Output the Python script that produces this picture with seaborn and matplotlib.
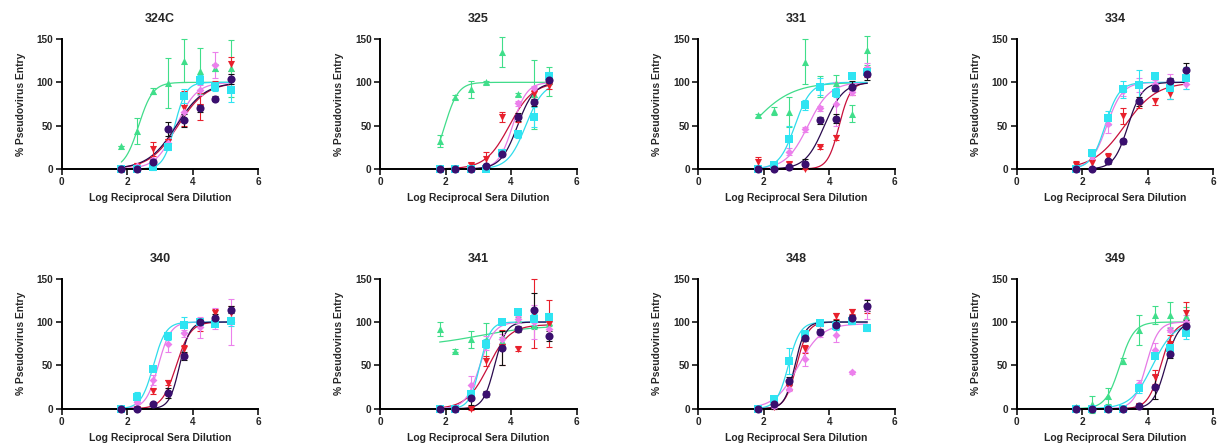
import numpy as np
import pandas as pd
import matplotlib
matplotlib.use("Agg")
import matplotlib.pyplot as plt
import seaborn as sns

sns.set_style("ticks")
plt.rcParams['font.family'] = ['Liberation Sans', 'DejaVu Sans']
plt.rcParams['font.weight'] = 'bold'

# ---------------- data ----------------
panels = ["324C", "325", "331", "334", "340", "341", "348", "349"]
x_log = [1.82, 2.30, 2.78, 3.25, 3.73, 4.21, 4.69, 5.16]
series = ["green", "red", "pink", "cyan", "purple"]
nan = np.nan

green_y = [[27, 44, 90, 99, 125, 113, 117, 116],
           [32, 83, 92, 100, 135, 86, 86, 101],
           [62, 67, 66, 124, 95, 99, 64, 137],
           [nan] * 8,
           [nan] * 8,
           [92, 67, 80, 79, 78, 103, 97, 100],
           [nan] * 8,
           [2, 5, 15, 55, 91, 108, 108, 107]]
green_err = [[0, 15, 4, 29, 25, 27, 4, 33],
             [7, 2, 10, 2, 17, 2, 40, 17],
             [2, 5, 17, 26, 12, 10, 10, 17],
             [0] * 8, [0] * 8,
             [8, 2, 10, 20, 5, 3, 5, 4],
             [0] * 8,
             [2, 10, 9, 3, 17, 10, 15, 10]]

red_y = [[0, 4, 23, 31, 70, 72, 96, 121],
         [0, 0, 5, 12, 60, 57, 87, 96],
         [8, 0, 6, 0, 25, 36, 89, 112],
         [5, 7, 14, 61, 75, 78, 87, 111],
         [0, 0, 20, 30, 69, 94, 111, 111],
         [0, 0, 0, 55, 71, 69, 110, 98],
         [0, 2, 25, 69, 98, 107, 112, 115],
         [0, 0, 0, 0, 3, 37, 75, 111]]
red_err = [[0, 3, 8, 4, 20, 16, 5, 8],
           [0, 0, 2, 8, 6, 3, 4, 4],
           [6, 0, 2, 0, 2, 3, 4, 6],
           [4, 5, 4, 9, 5, 4, 6, 4],
           [0, 0, 3, 3, 5, 4, 4, 8],
           [0, 0, 2, 6, 20, 2, 40, 27],
           [0, 2, 3, 5, 3, 3, 3, 4],
           [0, 0, 0, 0, 2, 8, 10, 12]]

pink_y = [[0, 4, 10, 30, 66, 91, 120, 104],
          [0, 0, 0, 3, 20, 76, 93, 103],
          [0, 4, 20, 46, 70, 75, 89, 116],
          [0, 15, 52, 90, 97, 98, 102, 98],
          [0, 8, 33, 75, 87, 94, 104, 100],
          [0, 0, 27, 76, 81, 103, 100, 92],
          [0, 3, 23, 57, 86, 85, 42, 115],
          [0, 0, 0, 0, 29, 68, 91, 100]]
pink_err = [[0, 2, 3, 4, 8, 6, 15, 6],
            [0, 0, 0, 2, 3, 3, 3, 5],
            [0, 2, 4, 3, 3, 25, 4, 6],
            [0, 3, 10, 6, 8, 5, 8, 6],
            [0, 3, 6, 10, 4, 12, 12, 27],
            [0, 0, 11, 8, 5, 4, 20, 8],
            [0, 2, 3, 8, 3, 8, 2, 12],
            [0, 0, 0, 0, 4, 8, 3, 8]]

cyan_y = [[0, 0, 2, 25, 84, 103, 95, 91],
          [0, 0, 0, 0, 18, 40, 60, 107],
          [0, 5, 35, 74, 95, 88, 107, 112],
          [0, 18, 59, 92, 97, 107, 93, 105],
          [0, 14, 46, 84, 97, 100, 98, 101],
          [0, 0, 17, 75, 100, 112, 103, 106],
          [0, 11, 55, 86, 99, 96, 101, 93],
          [0, 0, 0, 0, 24, 61, 70, 87]]
cyan_err = [[0, 0, 3, 3, 8, 5, 5, 14],
            [0, 0, 0, 0, 3, 4, 12, 5],
            [0, 2, 15, 6, 10, 5, 3, 5],
            [0, 3, 8, 10, 17, 3, 12, 13],
            [0, 5, 3, 5, 9, 3, 3, 5],
            [0, 2, 4, 5, 3, 2, 6, 5],
            [0, 3, 15, 3, 3, 5, 3, 3],
            [0, 0, 0, 0, 6, 3, 4, 6]]

purple_y = [[0, 0, 8, 46, 56, 70, 81, 104],
            [0, 0, 0, 3, 17, 60, 77, 103],
            [0, 0, 2, 6, 56, 58, 95, 110],
            [0, 0, 9, 32, 78, 93, 102, 114],
            [0, 0, 5, 18, 61, 100, 105, 114],
            [0, 0, 12, 17, 70, 92, 114, 84],
            [0, 5, 32, 82, 89, 97, 105, 119],
            [0, 0, 0, 0, 3, 25, 63, 96]]
purple_err = [[0, 0, 3, 8, 8, 4, 3, 6],
              [0, 0, 0, 2, 2, 5, 4, 5],
              [0, 0, 2, 5, 4, 5, 6, 7],
              [0, 0, 3, 3, 5, 3, 3, 8],
              [0, 0, 2, 6, 5, 3, 4, 4],
              [0, 0, 8, 3, 20, 3, 20, 6],
              [0, 5, 5, 4, 3, 5, 3, 6],
              [0, 0, 0, 0, 2, 14, 5, 6]]

# fitted 4PL parameters per panel: logIC50, Hill slope, bottom, top
green_fit = [(2.35, 2.0, 0, 100), (1.98, 2.1, 0, 100), (1.6, 0.7, 0, 100), None, None,
             (3.0, 0.5, 72, 96), None, (3.15, 2.0, 0, 100)]
red_fit = [(3.55, 1.0, 0, 100), (3.95, 1.2, 0, 100), (4.3, 2.5, 0, 100), (3.3, 0.9, 0, 100),
           (3.5, 2.0, 0, 100), (3.3, 1.3, 0, 97), (3.0, 2.5, 0, 100), (4.4, 2.2, 0, 100)]
pink_fit = [(3.5, 1.4, 0, 100), (4.05, 2.0, 0, 100), (3.35, 1.3, 0, 100), (2.75, 1.8, 0, 100),
            (2.95, 2.3, 0, 100), (3.05, 2.0, 0, 100), (3.05, 1.2, 0, 98), (3.95, 2.3, 0, 100)]
cyan_fit = [(3.45, 2.5, 0, 100), (4.45, 1.6, 0, 100), (2.95, 1.8, 0, 100), (2.7, 2.0, 0, 100),
            (2.8, 2.3, 0, 100), (3.05, 2.7, 0, 100), (2.75, 2.4, 0, 100), (4.15, 1.3, 0, 100)]
purple_fit = [(3.5, 1.0, 0, 100), (4.2, 1.7, 0, 100), (3.85, 1.5, 0, 100), (3.4, 2.0, 0, 100),
              (3.6, 2.8, 0, 100), (3.5, 2.5, 0, 100), (2.95, 2.8, 0, 100), (4.55, 2.3, 0, 100)]

# ---------------- styles ----------------
point_colors = {"green": "#40de8a", "red": "#e8202c", "pink": "#ec80ec",
                "cyan": "#2fe4f2", "purple": "#3a0f6e"}
line_colors = {"green": "#40dc8a", "red": "#c8103a", "pink": "#e67ae6",
               "cyan": "#2fdceb", "purple": "#2a0a4e"}
err_colors = {"green": "#40de8a", "red": "#e8202c", "pink": "#ec80ec",
              "cyan": "#2fe4f2", "purple": "#111111"}
markers = {"green": "^", "red": "v", "pink": "D", "cyan": "s", "purple": "o"}
msizes = {"green": 26, "red": 26, "pink": 16, "cyan": 30, "purple": 34}

ys = {"green": green_y, "red": red_y, "pink": pink_y, "cyan": cyan_y, "purple": purple_y}
errs = {"green": green_err, "red": red_err, "pink": pink_err, "cyan": cyan_err, "purple": purple_err}
fits = {"green": green_fit, "red": red_fit, "pink": pink_fit, "cyan": cyan_fit, "purple": purple_fit}

rows = []
for pi, p in enumerate(panels):
    for s in series:
        for xi, xv in enumerate(x_log):
            rows.append(dict(panel=p, series=s, x=xv, y=ys[s][pi][xi], err=errs[s][pi][xi]))
pts = pd.DataFrame(rows)

xs_curve = np.linspace(x_log[0], x_log[-1], 200)
crows = []
for pi, p in enumerate(panels):
    for s in series:
        f = fits[s][pi]
        if f is None:
            continue
        ic, h, b, t = f
        yc = b + (t - b) / (1 + 10 ** ((ic - xs_curve) * h))
        for xv, yv in zip(xs_curve, yc):
            crows.append(dict(panel=p, series=s, x=xv, y=yv))
curves = pd.DataFrame(crows)

# ---------------- figure ----------------
W, H = 1228, 447
fig = plt.figure(figsize=(W / 100, H / 100), dpi=100)
lefts = [61.7, 380.0, 698.3, 1016.7]
bottoms = [H - 169.0, H - 408.7]
aw, ah = 196.5, 130.0

for pi, p in enumerate(panels):
    r, c = divmod(pi, 4)
    ax = fig.add_axes([lefts[c] / W, bottoms[r] / H, aw / W, ah / H])
    cd = curves[curves.panel == p]
    pdf = pts[(pts.panel == p) & pts.y.notna()]
    for s in series:
        sc = cd[cd.series == s]
        if len(sc):
            sns.lineplot(data=sc, x="x", y="y", color=line_colors[s], lw=0.9,
                         ax=ax, legend=False, clip_on=False, zorder=2)
    for s in series:
        sp = pdf[pdf.series == s]
        if not len(sp):
            continue
        ax.errorbar(sp.x, sp.y, yerr=sp.err, fmt="none", ecolor=err_colors[s],
                    elinewidth=0.8, capsize=2.5, capthick=0.8, clip_on=False, zorder=3)
        sns.scatterplot(data=sp, x="x", y="y", color=point_colors[s], marker=markers[s],
                        s=msizes[s], linewidth=0, ax=ax, legend=False, clip_on=False,
                        zorder=4)
    ax.set_xlim(0, 6)
    ax.set_ylim(0, 150)
    ax.set_xticks([0, 2, 4, 6])
    ax.set_yticks([0, 50, 100, 150])
    sns.despine(ax=ax)
    for sp_ in ["left", "bottom"]:
        ax.spines[sp_].set_linewidth(1.4)
        ax.spines[sp_].set_color("black")
    ax.tick_params(axis="both", length=4, width=1.1, labelsize=7.2, pad=2, color="black")
    for lab in ax.get_xticklabels() + ax.get_yticklabels():
        lab.set_fontweight("bold")
    ax.set_title(p, fontsize=9, fontweight="bold", pad=12)
    ax.set_xlabel("Log Reciprocal Sera Dilution", fontsize=7.5, fontweight="bold", labelpad=4)
    ax.set_ylabel("% Pseudovirus Entry", fontsize=7.4, fontweight="bold", labelpad=8)

fig.savefig("out.png", dpi=100)
